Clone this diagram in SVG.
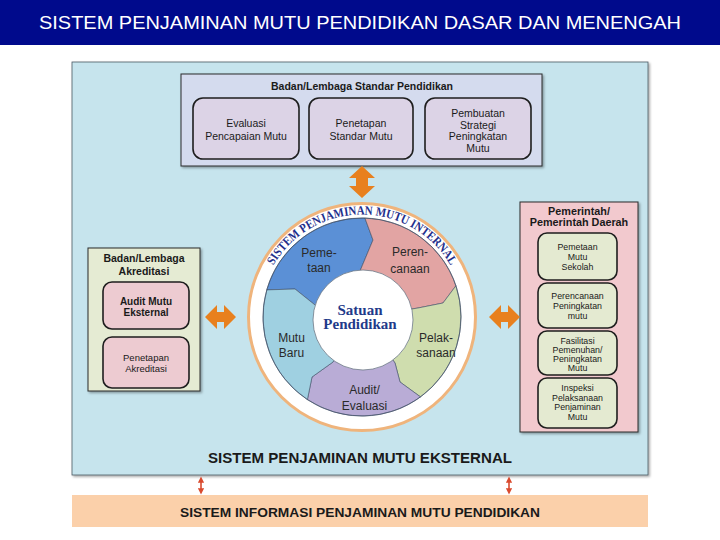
<svg xmlns="http://www.w3.org/2000/svg" width="720" height="540" viewBox="0 0 720 540">
<defs>
<style>
.t{font-family:"Liberation Sans",Arial,sans-serif;fill:#1a1a1a;text-anchor:middle}
.b{font-weight:bold}
.s9{font-size:8.8px}
.s10{font-size:10.5px}
.seg{font-family:"Liberation Sans",Arial,sans-serif;font-size:12px;fill:#2a2a2a;text-anchor:middle}
.box{stroke:#2b2b2b;stroke-width:1;filter:url(#sh)}
.ib{stroke:#1e1e1e;stroke-width:1.6}
.oa{fill:#e8801e}
.ra{stroke:#d94a2e;stroke-width:1.6;fill:none;marker-start:url(#rh);marker-end:url(#rh)}
.sp{stroke:#3f4f66;stroke-width:0.6}
</style>
<filter id="sh" x="-5%" y="-5%" width="115%" height="115%">
<feDropShadow dx="1.5" dy="1.5" stdDeviation="1.2" flood-color="#000" flood-opacity="0.35"/>
</filter>
<marker id="rh" viewBox="0 0 10 10" refX="6" refY="5" markerWidth="4" markerHeight="4" orient="auto-start-reverse">
<path d="M0,0 L10,5 L0,10 z" fill="#d94a2e"/>
</marker>
<path id="arcp" d="M 271.5 268.9 A 102.5 102.5 0 0 1 452.5 268.9" fill="none"/>
</defs>

<rect x="0" y="0" width="720" height="540" fill="#ffffff"/>

<g id="title">
<rect x="0" y="0" width="720" height="45" fill="#000a8c"/>
<text x="360" y="29" font-family="Liberation Sans,Arial,sans-serif" font-size="19" fill="#ffffff" text-anchor="middle" textLength="642" lengthAdjust="spacingAndGlyphs">SISTEM PENJAMINAN MUTU PENDIDIKAN DASAR DAN MENENGAH</text>
</g>

<g id="panel-eksternal">
<rect x="72" y="62" width="576" height="413" fill="#c6e4ed" stroke="#4a5a63" stroke-width="0.8" filter="url(#sh)"/>
<text class="t b" x="360" y="463" font-size="14" textLength="304" lengthAdjust="spacingAndGlyphs">SISTEM PENJAMINAN MUTU EKSTERNAL</text>
</g>

<g id="panel-informasi">
<rect x="72" y="495" width="576" height="32" fill="#fbd0aa"/>
<text class="t b" x="360" y="517" font-size="13" textLength="360" lengthAdjust="spacingAndGlyphs">SISTEM INFORMASI PENJAMINAN MUTU PENDIDIKAN</text>
</g>

<g id="standar">
<rect class="box" x="181" y="74" width="361" height="92" fill="#d4dbee"/>
<text class="t b s10" x="362" y="90">Badan/Lembaga Standar Pendidikan</text>
<g id="evaluasi-pencapaian">
<rect class="ib" x="193" y="98" width="106" height="61" rx="10" fill="#dcd3e6"/>
<text class="t s10" x="246" y="127">Evaluasi</text>
<text class="t s10" x="246" y="140">Pencapaian Mutu</text>
</g>
<g id="penetapan-standar">
<rect class="ib" x="309" y="98" width="104" height="61" rx="10" fill="#dcd3e6"/>
<text class="t s10" x="361" y="127">Penetapan</text>
<text class="t s10" x="361" y="140">Standar Mutu</text>
</g>
<g id="pembuatan-strategi">
<rect class="ib" x="425" y="98" width="106" height="61" rx="10" fill="#dcd3e6"/>
<text class="t s10" x="478" y="117">Pembuatan</text>
<text class="t s10" x="478" y="128.5">Strategi</text>
<text class="t s10" x="478" y="140">Peningkatan</text>
<text class="t s10" x="478" y="151.5">Mutu</text>
</g>
</g>

<g id="akreditasi">
<rect class="box" x="88" y="248" width="112" height="143" fill="#e5ebd3"/>
<text class="t b s10" x="144" y="262">Badan/Lembaga</text>
<text class="t b s10" x="144" y="275">Akreditasi</text>
<g id="audit-eksternal">
<rect class="ib" x="103" y="282" width="86" height="47" rx="9" fill="#edcbd1"/>
<text class="t b" x="146" y="305" font-size="10">Audit Mutu</text>
<text class="t b" x="146" y="315.5" font-size="10">Eksternal</text>
</g>
<g id="penetapan-akreditasi">
<rect class="ib" x="103" y="337" width="86" height="51" rx="9" fill="#edcbd1"/>
<text class="t" x="146" y="361" font-size="9.5">Penetapan</text>
<text class="t" x="146" y="372" font-size="9.5">Akreditasi</text>
</g>
</g>

<g id="pemerintah">
<rect class="box" x="520" y="202" width="118" height="230" fill="#f2c9ce"/>
<text class="t b" x="579" y="215" font-size="10.8">Pemerintah/</text>
<text class="t b" x="579" y="226" font-size="10.8">Pemerintah Daerah</text>
<g id="pemetaan-mutu">
<rect class="ib" x="538" y="233" width="79" height="47" rx="9" fill="#e4ead1"/>
<text class="t s9" x="577.5" y="249.5">Pemetaan</text>
<text class="t s9" x="577.5" y="259.5">Mutu</text>
<text class="t s9" x="577.5" y="269.5">Sekolah</text>
</g>
<g id="perencanaan-mutu">
<rect class="ib" x="538" y="283" width="79" height="45" rx="9" fill="#e4ead1"/>
<text class="t s9" x="577.5" y="299">Perencanaan</text>
<text class="t s9" x="577.5" y="309">Peningkatan</text>
<text class="t s9" x="577.5" y="319">mutu</text>
</g>
<g id="fasilitasi">
<rect class="ib" x="538" y="331" width="79" height="44" rx="9" fill="#e4ead1"/>
<text class="t s9" x="577.5" y="344">Fasilitasi</text>
<text class="t s9" x="577.5" y="353">Pemenuhan/</text>
<text class="t s9" x="577.5" y="362">Peningkatan</text>
<text class="t s9" x="577.5" y="371">Mutu</text>
</g>
<g id="inspeksi">
<rect class="ib" x="538" y="378" width="79" height="50" rx="9" fill="#e4ead1"/>
<text class="t s9" x="577.5" y="391">Inspeksi</text>
<text class="t s9" x="577.5" y="400.5">Pelaksanaan</text>
<text class="t s9" x="577.5" y="410">Penjaminan</text>
<text class="t s9" x="577.5" y="419.5">Mutu</text>
</g>
</g>

<g id="spmi">
<circle cx="362" cy="317" r="113.5" fill="#ffffff" stroke="#efb47c" stroke-width="3"/>
<g id="pemetaan">
<path class="sp" d="M 362 317 L 315 305 L 295 289 L 266.8 289.9 A 99 99 0 0 1 364.9 218 L 373 240 L 360 271 Z" fill="#5b90d6"/>
<text class="seg" x="319" y="257">Peme-</text>
<text class="seg" x="319" y="272">taan</text>
</g>
<g id="perencanaan">
<path class="sp" d="M 362 317 L 360 271 L 373 240 L 364.9 218 A 99 99 0 0 1 455.9 285.8 L 443 303 L 418 308 Z" fill="#e2a4a3"/>
<text class="seg" x="410" y="255.5">Peren-</text>
<text class="seg" x="410" y="273">canaan</text>
</g>
<g id="pelaksanaan">
<path class="sp" d="M 362 317 L 418 308 L 443 303 L 455.9 285.8 A 99 99 0 0 1 420.5 396.9 L 400 382 L 395 363 Z" fill="#cfddae"/>
<text class="seg" x="436" y="342">Pelak-</text>
<text class="seg" x="436" y="357">sanaan</text>
</g>
<g id="audit-evaluasi">
<path class="sp" d="M 362 317 L 395 363 L 400 382 L 420.5 396.9 A 99 99 0 0 1 307.4 399.6 L 312 377 L 333 362 Z" fill="#b9acd6"/>
<text class="seg" x="364.5" y="394">Audit/</text>
<text class="seg" x="364.5" y="410">Evaluasi</text>
</g>
<g id="mutu-baru">
<path class="sp" d="M 362 317 L 333 362 L 312 377 L 307.4 399.6 A 99 99 0 0 1 266.8 289.9 L 295 289 L 315 305 Z" fill="#9fd0e1"/>
<text class="seg" x="291.5" y="342">Mutu</text>
<text class="seg" x="291.5" y="357">Baru</text>
</g>
<circle cx="362" cy="317" r="99" fill="none" stroke="#3f4f66" stroke-width="0.7"/>
<text font-family="Liberation Serif,Times New Roman,serif" font-weight="bold" font-size="12.5" fill="#1f2f8c"><textPath href="#arcp" startOffset="50%" text-anchor="middle" textLength="214" lengthAdjust="spacingAndGlyphs">SISTEM PENJAMINAN MUTU INTERNAL</textPath></text>
<g id="satuan">
<circle cx="363" cy="320" r="50" fill="#ffffff" stroke="#6b7785" stroke-width="0.8"/>
<text x="360" y="315" font-family="Liberation Serif,Times New Roman,serif" font-weight="bold" font-size="15" fill="#1f3a8a" text-anchor="middle">Satuan</text>
<text x="360" y="329" font-family="Liberation Serif,Times New Roman,serif" font-weight="bold" font-size="15" fill="#1f3a8a" text-anchor="middle">Pendidikan</text>
</g>
</g>

<g id="connectors">
<polygon class="oa" points="362,166 375,178 368,178 368,186 375,186 362,198 349,186 356,186 356,178 349,178"/>
<polygon class="oa" points="205,317 217,305 217,312 224,312 224,305 236,317 224,329 224,322 217,322 217,329"/>
<polygon class="oa" points="489,317 501,305 501,312 508,312 508,305 520,317 508,329 508,322 501,322 501,329"/>
<line class="ra" x1="201" y1="479" x2="201" y2="492"/>
<line class="ra" x1="509" y1="479" x2="509" y2="492"/>
</g>
</svg>
